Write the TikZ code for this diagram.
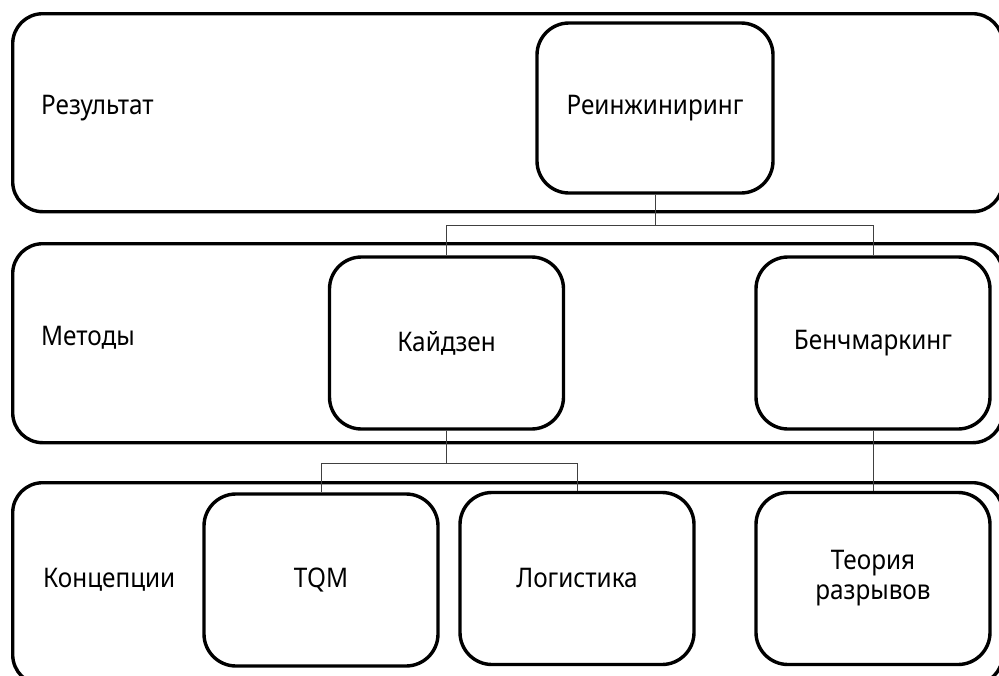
\documentclass[tikz,border=0pt]{standalone}
\usepackage{fontspec}
\setmainfont{Noto Sans}[FakeStretch=0.9]
\usepackage{tikz}
\usetikzlibrary{positioning}

\tikzset{
  band/.style={draw, line width=3.4pt, rounded corners=30pt, anchor=north west, inner sep=0},
  unit/.style={draw, line width=3.4pt, rounded corners=32pt, align=center, minimum width=234pt, minimum height=172pt, inner sep=0},
  lbl/.style={anchor=base west, inner sep=0},
  link/.style={draw=black!75, line width=1pt}
}

\begin{document}
\begin{tikzpicture}[x=1pt, y=-1pt, font=\fontsize{27}{30}\selectfont]
\useasboundingbox (0,0) rectangle (999,675);
\clip (0,0) rectangle (999,675);
% levels
\node[band, minimum width=990pt, minimum height=198pt] (band_res) at (11,12) {};
\node[band, minimum width=990pt, minimum height=199pt] (band_met) at (11,242) {};
\node[band, minimum width=990pt, minimum height=202pt] (band_con) at (11,481) {};
\node[lbl] (lbl_res) at (41,114) {Результат};
\node[lbl] (lbl_met) at (41,345) {Методы};
\node[lbl] (lbl_con) at (43,587) {Концепции};
% boxes
\node[unit, minimum width=236pt, minimum height=170pt] (unit_reeng) at (655,108) {Реинжиниринг};
\node[unit] (unit_kaizen) at (446.5,343) {Кайдзен};
\node[unit] (unit_bench) at (873,343) {Бенчмаркинг};
\node[unit] (unit_tqm) at (321,580) {TQM};
\node[unit] (unit_log) at (577,578.5) {Логистика};
\node[unit] (unit_gap) at (873,578.5) {Теория\\разрывов};
% connectors
\draw[link] (unit_reeng.south) -- ++(0,31) -| (unit_kaizen.north);
\draw[link] (unit_reeng.south) -- ++(0,31) -| (unit_bench.north);
\draw[link] (unit_kaizen.south) -- ++(0,33) -| (unit_tqm.north);
\draw[link] (unit_kaizen.south) -- ++(0,33) -| (unit_log.north);
\draw[link] (unit_bench) -- (unit_gap);
\end{tikzpicture}
\end{document}
